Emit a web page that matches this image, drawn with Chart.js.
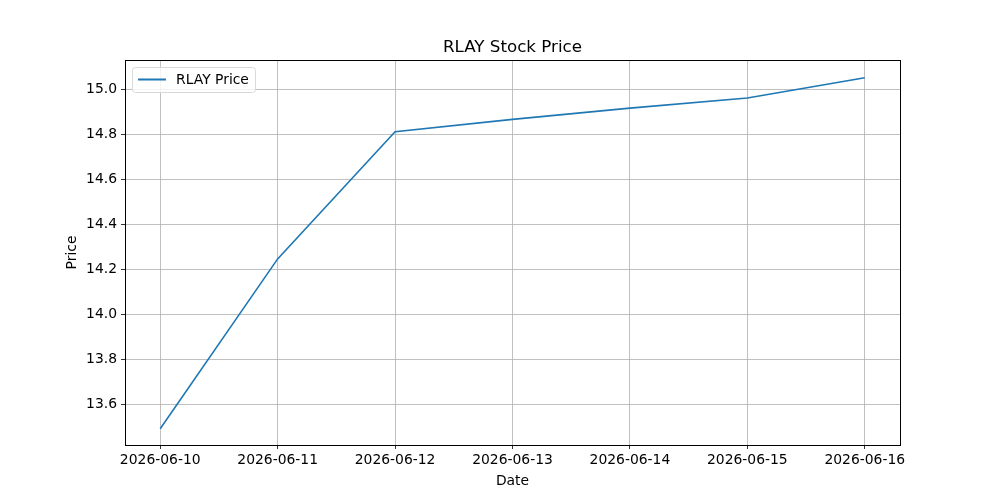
<!DOCTYPE html>
<html lang="en">
<head>
    <meta charset="UTF-8">
    <title>RLAY Stock Price</title>
    <script src="https://cdn.jsdelivr.net/npm/chart.js"></script>
    <style>
        html, body { margin: 0; padding: 0; background: #fff; }
        #wrap { width: 1000px; height: 500px; }
    </style>
</head>
<body>
<div id="wrap"><canvas id="chart" width="1000" height="500"></canvas></div>
<script>
// data
const dates = ["2026-06-10", "2026-06-11", "2026-06-12", "2026-06-13", "2026-06-14", "2026-06-15", "2026-06-16"];
const prices = [13.49, 14.245, 14.81, 14.865, 14.915, 14.96, 15.05];
const yTicks = [13.6, 13.8, 14.0, 14.2, 14.4, 14.6, 14.8, 15.0];
const seriesName = "RLAY Price";
const chartTitle = "RLAY Stock Price";

const FONT = "'DejaVu Sans', sans-serif";

// frame, title and legend like matplotlib
const mplPlugin = {
    id: "mpl",
    afterDraw(chart) {
        const ctx = chart.ctx;
        const a = chart.chartArea;
        ctx.save();
        ctx.strokeStyle = "#000";
        ctx.lineWidth = 1;
        ctx.strokeRect(Math.round(a.left) + 0.5, Math.round(a.top) + 0.5,
            Math.round(a.right - a.left), Math.round(a.bottom - a.top));

        // title centred over the plot area
        ctx.fillStyle = "#000";
        ctx.font = "16.7px " + FONT;
        ctx.textAlign = "center";
        ctx.textBaseline = "alphabetic";
        ctx.fillText(chartTitle, (a.left + a.right) / 2, a.top - 8);

        // legend box
        const x = a.left + 7, y = a.top + 7, w = 123, h = 25;
        ctx.fillStyle = "rgba(255,255,255,0.8)";
        ctx.strokeStyle = "#d9d9d9";
        ctx.beginPath();
        ctx.roundRect(x + 0.5, y + 0.5, w, h, 3);
        ctx.fill();
        ctx.stroke();
        ctx.strokeStyle = "#1f77b4";
        ctx.lineWidth = 2;
        ctx.beginPath();
        ctx.moveTo(x + 6, y + 12.5);
        ctx.lineTo(x + 34, y + 12.5);
        ctx.stroke();
        ctx.fillStyle = "#000";
        ctx.font = "13.9px " + FONT;
        ctx.textAlign = "left";
        ctx.textBaseline = "middle";
        ctx.fillText(seriesName, x + 44, y + 13);
        ctx.restore();
    }
};

const points = prices.map((p, i) => ({ x: i, y: p }));

new Chart(document.getElementById("chart"), {
    type: "line",
    data: {
        datasets: [{
            label: seriesName,
            data: points,
            borderColor: "#1f77b4",
            borderWidth: 1.6,
            pointRadius: 0,
            tension: 0,
            fill: false
        }]
    },
    options: {
        responsive: false,
        animation: false,
        devicePixelRatio: 1,
        layout: { padding: { left: 0, right: 100, top: 60, bottom: 0 } },
        plugins: {
            legend: { display: false },
            tooltip: { enabled: false },
            title: { display: false }
        },
        scales: {
            x: {
                type: "linear",
                min: -0.3,
                max: 6.3,
                afterBuildTicks(s) { s.ticks = dates.map((d, i) => ({ value: i })); },
                afterFit(s) { s.height = 55; },
                ticks: {
                    color: "#000",
                    font: { family: FONT, size: 13.9 },
                    padding: 3,
                    maxRotation: 0,
                    autoSkip: false,
                    callback: (v) => dates[v]
                },
                grid: { color: "#b0b0b0", lineWidth: 0.8, tickColor: "#000", tickLength: 4 },
                border: { display: false },
                title: {
                    display: true,
                    text: "Date",
                    color: "#000",
                    font: { family: FONT, size: 13.9 },
                    padding: { top: 10, bottom: 10 }
                }
            },
            y: {
                min: 13.418,
                max: 15.129,
                afterBuildTicks(s) { s.ticks = yTicks.map(v => ({ value: v })); },
                afterFit(s) { s.width = 125; },
                ticks: {
                    color: "#000",
                    font: { family: FONT, size: 13.9 },
                    padding: 4,
                    callback: (v) => v.toFixed(1)
                },
                grid: { color: "#b0b0b0", lineWidth: 0.8, tickColor: "#000", tickLength: 4 },
                border: { display: false },
                title: {
                    display: true,
                    text: "Price",
                    color: "#000",
                    font: { family: FONT, size: 13.9 },
                    padding: { top: 64, bottom: 64 }
                }
            }
        }
    },
    plugins: [mplPlugin]
});
</script>
</body>
</html>
